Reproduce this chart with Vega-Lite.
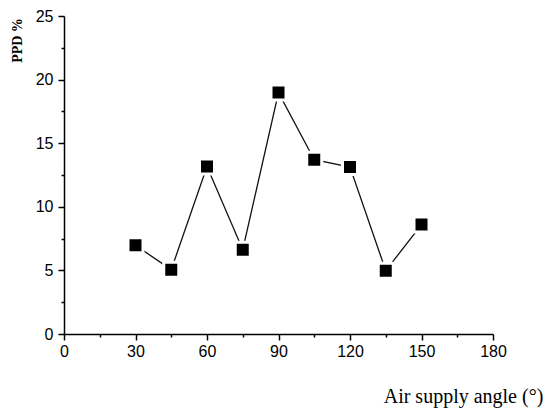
{
  "$schema": "https://vega.github.io/schema/vega-lite/v6.json",
  "autosize": "none",
  "width": 429,
  "height": 318,
  "padding": {"left": 64, "top": 16, "right": 55, "bottom": 79},
  "background": "white",
  "config": {"view": {"stroke": null}},
  "data": {
    "values": [
      {"angle": 30, "ppd": 6.97},
      {"angle": 45, "ppd": 5.06},
      {"angle": 60, "ppd": 13.17},
      {"angle": 75, "ppd": 6.63},
      {"angle": 90, "ppd": 18.98},
      {"angle": 105, "ppd": 13.7},
      {"angle": 120, "ppd": 13.12},
      {"angle": 135, "ppd": 4.98},
      {"angle": 150, "ppd": 8.6}
    ]
  },
  "encoding": {
    "x": {
      "field": "angle",
      "type": "quantitative",
      "scale": {"domain": [0, 180], "nice": false, "zero": false},
      "axis": {
        "title": "Air supply angle (°)",
        "values": [0, 15, 30, 45, 60, 75, 90, 105, 120, 135, 150, 165, 180],
        "labelExpr": "datum.value % 30 === 0 ? datum.label : ''",
        "tickSize": {"condition": {"test": "datum.value % 30 === 0", "value": 6}, "value": 3},
        "grid": false,
        "domainColor": "#000",
        "domainWidth": 1.5,
        "tickColor": "#000",
        "tickWidth": 1.5,
        "labelFont": "Liberation Sans",
        "labelFontSize": 16,
        "labelColor": "#000",
        "labelPadding": 3,
        "labelFlush": false,
        "labelOverlap": false,
        "titleFont": "Liberation Serif",
        "titleFontSize": 20,
        "titleFontWeight": "normal",
        "titleColor": "#000",
        "titleX": 399,
        "titleY": 68,
        "titleAlign": "center",
        "titleBaseline": "alphabetic",
        "titleAnchor": null
      }
    },
    "y": {
      "field": "ppd",
      "type": "quantitative",
      "scale": {"domain": [0, 25], "nice": false},
      "axis": {
        "title": "PPD %",
        "values": [0, 2.5, 5, 7.5, 10, 12.5, 15, 17.5, 20, 22.5, 25],
        "labelExpr": "datum.value % 5 === 0 ? datum.label : ''",
        "tickSize": {"condition": {"test": "datum.value % 5 === 0", "value": 6}, "value": 3},
        "grid": false,
        "domainColor": "#000",
        "domainWidth": 1.5,
        "tickColor": "#000",
        "tickWidth": 1.5,
        "labelFont": "Liberation Sans",
        "labelFontSize": 16,
        "labelColor": "#000",
        "labelPadding": 5,
        "labelFlush": false,
        "labelOverlap": false,
        "titleFont": "Liberation Serif",
        "titleFontSize": 14,
        "titleFontWeight": "bold",
        "titleColor": "#000",
        "titleAngle": -90,
        "titleX": -47,
        "titleY": 24,
        "titleAlign": "center",
        "titleBaseline": "middle",
        "titleAnchor": null
      }
    }
  },
  "layer": [
    {"mark": {"type": "line", "color": "#111", "strokeWidth": 1.3}},
    {"mark": {"type": "point", "shape": "square", "filled": true, "size": 225, "fill": "#000", "stroke": "white", "strokeWidth": 3, "opacity": 1}}
  ]
}
